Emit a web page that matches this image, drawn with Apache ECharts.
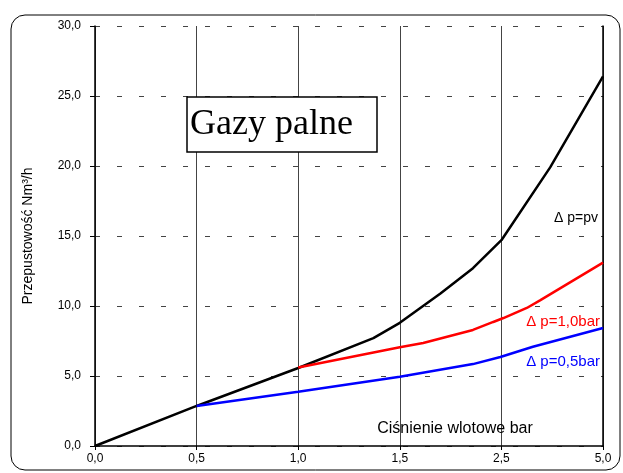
<!DOCTYPE html>
<html>
<head>
<meta charset="utf-8">
<script src="https://cdn.jsdelivr.net/npm/echarts@6/dist/echarts.min.js"></script>
<style>
  html, body { margin: 0; padding: 0; background: #fff; }
  #chart { width: 623px; height: 473px; }
</style>
</head>
<body>
<div id="chart"></div>
<script>
// x axis is evenly spaced categories: 0,0 0,5 1,0 1,5 2,5 5,0 (position = index)
const xLabels = ["0,0", "0,5", "1,0", "1,5", "2,5", "5,0"];

// [position, value]
const pvLine = [
  [0, 0], [1, 2.86], [2, 5.57], [2.74, 7.7], [3, 8.8], [3.4, 10.9],
  [3.72, 12.7], [4, 14.7], [4.48, 19.9], [5, 26.4]
];
const bar10Line = [
  [2, 5.6], [3, 7.06], [3.23, 7.36], [3.72, 8.29], [3.92, 8.86],
  [4.02, 9.14], [4.25, 9.86], [4.38, 10.4], [5, 13.1]
];
const bar05Line = [
  [1, 2.86], [2, 3.88], [3, 4.95], [3.72, 5.85], [3.99, 6.36],
  [4.31, 7.09], [5, 8.43]
];

const chart = echarts.init(document.getElementById("chart"));

const labelFont = "Liberation Sans, Arial, sans-serif";

chart.setOption({
  animation: false,
  grid: { left: 95, right: 20, top: 26, bottom: 27 },
  xAxis: {
    type: "value",
    min: 0,
    max: 5,
    interval: 1,
    axisLine: { lineStyle: { color: "#000", width: 1.5 } },
    axisTick: { show: true, length: 4, lineStyle: { color: "#000" } },
    axisLabel: {
      formatter: v => xLabels[v],
      color: "#000",
      fontFamily: labelFont,
      fontSize: 12,
      margin: 7
    },
    splitLine: { show: true, lineStyle: { color: "#444", width: 1 } }
  },
  yAxis: [
    {
      type: "value",
      min: 0,
      max: 30,
      interval: 5,
      name: "Przepustowość Nm³/h",
      nameLocation: "middle",
      nameRotate: 90,
      nameGap: 60,
      nameTextStyle: { color: "#000", fontFamily: labelFont, fontSize: 14 },
      axisLine: { show: true, lineStyle: { color: "#000", width: 1.5 } },
      axisTick: { show: true, length: 5, lineStyle: { color: "#000" } },
      axisLabel: {
        formatter: v => v.toFixed(1).replace(".", ","),
        color: "#000",
        fontFamily: labelFont,
        fontSize: 12,
        margin: 14
      },
      splitLine: {
        show: true,
        lineStyle: { color: "#444", width: 1, type: [5, 17] }
      }
    },
    {
      type: "value",
      min: 0,
      max: 30,
      position: "right",
      axisLine: { show: true, lineStyle: { color: "#000", width: 1.5 } },
      axisTick: { show: false },
      axisLabel: { show: false },
      splitLine: { show: false }
    }
  ],
  series: [
    {
      type: "line",
      data: pvLine,
      symbol: "none",
      lineStyle: { color: "#000", width: 2.5 }
    },
    {
      type: "line",
      data: bar10Line,
      symbol: "none",
      lineStyle: { color: "#ff0000", width: 2.5 }
    },
    {
      type: "line",
      data: bar05Line,
      symbol: "none",
      lineStyle: { color: "#0000ff", width: 2.5 }
    }
  ],
  graphic: [
    {
      type: "rect",
      shape: { x: 11, y: 15, width: 609, height: 455, r: 14 },
      style: { fill: null, stroke: "#000", lineWidth: 1 },
      silent: true
    },
    {
      type: "rect",
      shape: { x: 187, y: 97, width: 190, height: 55 },
      style: { fill: "#fff", stroke: "#000", lineWidth: 1.5 },
      z: 10
    },
    {
      type: "text",
      x: 190, y: 125,
      style: {
        text: "Gazy palne",
        font: "36px 'Liberation Serif', 'Times New Roman', serif",
        fill: "#000",
        align: "left",
        verticalAlign: "middle"
      },
      z: 11
    },
    {
      type: "text",
      x: 598, y: 218,
      style: {
        text: "Δ p=pv",
        font: "14px 'Liberation Sans', Arial, sans-serif",
        fill: "#000",
        align: "right",
        verticalAlign: "middle"
      },
      z: 11
    },
    {
      type: "text",
      x: 600, y: 322,
      style: {
        text: "Δ p=1,0bar",
        font: "15px 'Liberation Sans', Arial, sans-serif",
        fill: "#ff0000",
        align: "right",
        verticalAlign: "middle"
      },
      z: 11
    },
    {
      type: "text",
      x: 600, y: 362,
      style: {
        text: "Δ p=0,5bar",
        font: "15px 'Liberation Sans', Arial, sans-serif",
        fill: "#0000ff",
        align: "right",
        verticalAlign: "middle"
      },
      z: 11
    },
    {
      type: "text",
      x: 455, y: 429,
      style: {
        text: "Ciśnienie wlotowe bar",
        font: "16px 'Liberation Sans', Arial, sans-serif",
        fill: "#000",
        align: "center",
        verticalAlign: "middle"
      },
      z: 11
    }
  ]
});
</script>
</body>
</html>
